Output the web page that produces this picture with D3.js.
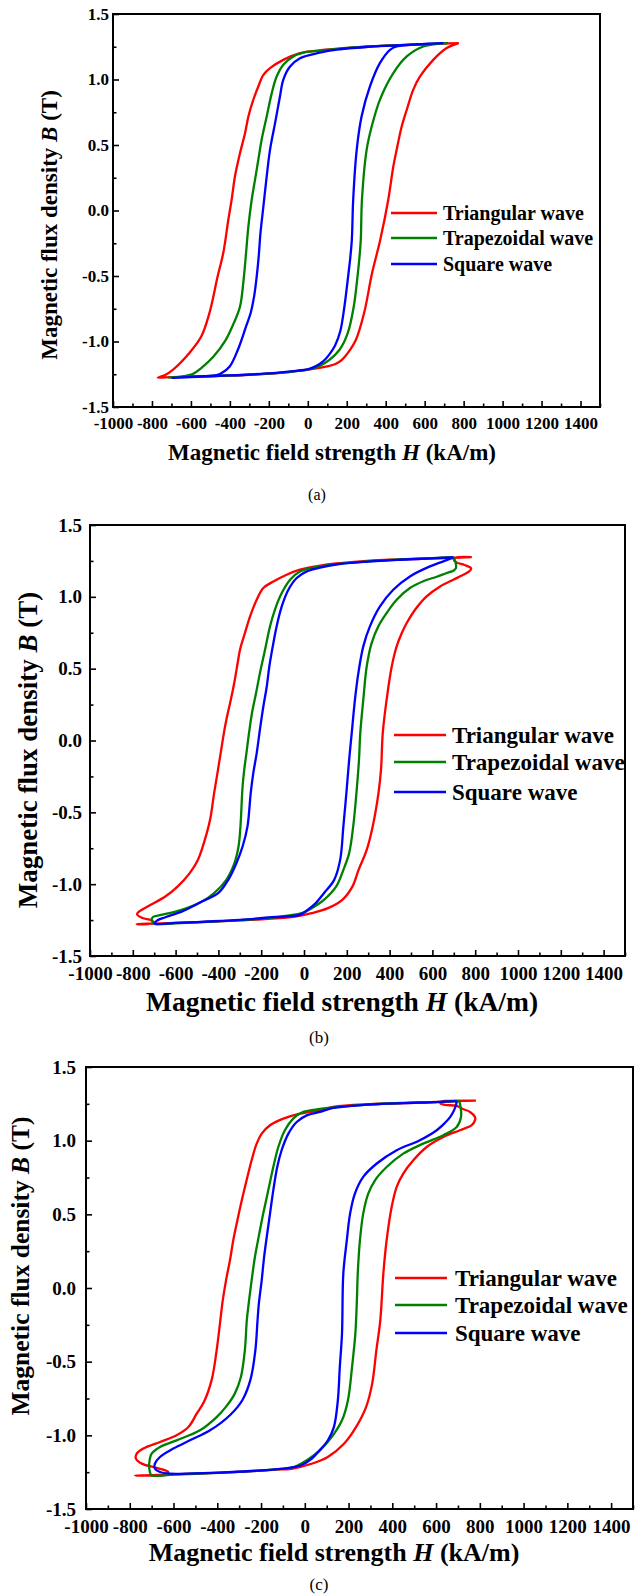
<!DOCTYPE html>
<html>
<head>
<meta charset="utf-8">
<script src="https://cdn.jsdelivr.net/npm/d3@7"></script>
<style>
  body { margin: 0; background: #fff; }
</style>
</head>
<body>
<div id="plot"></div>
<script>
// axis ticks and legend
const hTicks = [-1000, -800, -600, -400, -200, 0, 200, 400, 600, 800, 1000, 1200, 1400];
const hMinor = [-900, -700, -500, -300, -100, 100, 300, 500, 700, 900, 1100, 1300, 1500];
const bTicks = [-1.5, -1.0, -0.5, 0.0, 0.5, 1.0, 1.5];
const bMinor = [-1.25, -0.75, -0.25, 0.25, 0.75, 1.25];
const waveNames = ["Triangular wave", "Trapezoidal wave", "Square wave"];
const waveColors = ["#ff0000", "#008000", "#0000ff"];

// loops as [H (kA/m), B (T)]
// (a)
const aTriangular = [[775,1.278],[700,1.274],[550,1.266],[400,1.258],[300,1.25],[150,1.234],[62,1.222],[-40,1.201],[-126,1.15],[-194,1.087],[-228,1.036],[-254,0.947],[-280,0.845],[-305,0.718],[-322,0.591],[-348,0.438],[-374,0.26],[-391,0.082],[-408,-0.071],[-434,-0.325],[-463,-0.504],[-505,-0.783],[-547,-0.962],[-609,-1.089],[-693,-1.216],[-735,-1.258],[-770,-1.275],
  [-700,-1.272],[-550,-1.266],[-400,-1.26],[-300,-1.254],[-129,-1.238],[17,-1.211],[100,-1.19],[142,-1.172],[175,-1.14],[205,-1.089],[247,-0.987],[289,-0.783],[330,-0.478],[372,-0.224],[413,0.082],[439,0.336],[456,0.463],[482,0.641],[508,0.769],[541,0.921],[576,1.023],[644,1.15],[713,1.24],[775,1.278]];
const aTrapezoidal = [[720,1.278],[600,1.27],[450,1.261],[300,1.25],[150,1.234],[62,1.22],[-6,1.21],[-74,1.176],[-126,1.112],[-160,1.023],[-185,0.896],[-211,0.718],[-237,0.54],[-254,0.387],[-271,0.234],[-288,0.082],[-305,-0.122],[-317,-0.325],[-328,-0.504],[-348,-0.733],[-380,-0.86],[-421,-0.987],[-484,-1.115],[-547,-1.203],[-589,-1.247],[-650,-1.268],[-715,-1.276],
  [-650,-1.272],[-500,-1.264],[-350,-1.256],[-200,-1.245],[-60,-1.226],[10,-1.21],[59,-1.188],[111,-1.14],[163,-1.063],[205,-0.936],[236,-0.733],[257,-0.478],[264,-0.376],[272,-0.224],[278,0.082],[302,0.463],[328,0.641],[370,0.845],[439,1.049],[508,1.176],[593,1.252],[720,1.278]];
const aSquare = [[695,1.278],[600,1.272],[456,1.26],[300,1.248],[150,1.228],[62,1.205],[-40,1.163],[-91,1.099],[-126,0.998],[-143,0.87],[-168,0.667],[-194,0.463],[-211,0.26],[-228,0.031],[-243,-0.173],[-252,-0.35],[-262,-0.5],[-275,-0.65],[-293,-0.78],[-317,-0.885],[-359,-1.063],[-401,-1.191],[-442,-1.241],[-463,-1.254],[-600,-1.27],[-695,-1.278],
  [-600,-1.272],[-450,-1.262],[-300,-1.252],[-150,-1.237],[-50,-1.222],[0,-1.212],[40,-1.19],[80,-1.15],[110,-1.1],[140,-1.03],[167,-0.92],[188,-0.733],[209,-0.478],[217,-0.376],[226,-0.224],[233,0.082],[251,0.463],[276,0.718],[319,0.947],[370,1.125],[422,1.227],[456,1.252],[600,1.272],[695,1.278]];
// (b)
const bTriangular = [[784,1.277],[700,1.272],[550,1.265],[400,1.258],[250,1.245],[150,1.232],[75,1.217],[-19,1.189],[-81,1.154],[-143,1.107],[-190,1.061],[-221,0.98],[-252,0.864],[-276,0.748],[-299,0.632],[-310,0.539],[-326,0.4],[-342,0.283],[-356,0.191],[-369,0.097],[-387,-0.065],[-402,-0.204],[-420,-0.366],[-439,-0.552],[-468,-0.714],[-496,-0.831],[-534,-0.923],[-591,-1.017],[-648,-1.086],[-724,-1.15],[-770,-1.19],[-780,-1.21],[-755,-1.235],[-715,-1.25],[-702,-1.265],[-720,-1.277],[-782,-1.278],
  [-700,-1.274],[-550,-1.267],[-400,-1.259],[-250,-1.248],[-59,-1.23],[36,-1.202],[112,-1.167],[179,-1.109],[226,-1.017],[255,-0.9],[293,-0.761],[321,-0.598],[348,-0.366],[360,-0.2],[368,0.051],[386,0.283],[410,0.515],[433,0.655],[457,0.748],[480,0.818],[519,0.91],[573,1.003],[636,1.072],[698,1.119],[740,1.15],[772,1.177],[781,1.198],[750,1.222],[712,1.24],[700,1.262],[720,1.276],[784,1.277]];
const bTrapezoidal = [[700,1.277],[600,1.27],[450,1.26],[300,1.247],[150,1.228],[75,1.212],[-19,1.177],[-65,1.119],[-104,1.026],[-136,0.91],[-159,0.794],[-182,0.632],[-206,0.469],[-224,0.33],[-243,0.191],[-257,0.051],[-269,-0.088],[-279,-0.2],[-287,-0.32],[-297,-0.599],[-306,-0.738],[-325,-0.854],[-363,-0.97],[-420,-1.063],[-477,-1.121],[-572,-1.179],[-667,-1.214],[-705,-1.228],[-712,-1.249],[-705,-1.268],[-700,-1.277],
  [-600,-1.272],[-450,-1.263],[-300,-1.251],[-150,-1.233],[-11,-1.202],[36,-1.167],[93,-1.109],[150,-1.017],[184,-0.9],[211,-0.784],[230,-0.598],[245,-0.366],[257,-0.134],[263,0.051],[277,0.283],[293,0.515],[316,0.678],[347,0.794],[386,0.887],[433,0.98],[495,1.061],[560,1.11],[620,1.14],[667,1.166],[698,1.182],[710,1.2],[709,1.235],[703,1.263],[700,1.277]];
const bSquare = [[698,1.274],[600,1.268],[450,1.258],[300,1.245],[150,1.225],[75,1.203],[13,1.177],[-34,1.131],[-73,1.049],[-104,0.933],[-128,0.794],[-146,0.655],[-162,0.515],[-174,0.376],[-190,0.237],[-206,0.075],[-221,-0.088],[-237,-0.227],[-249,-0.366],[-264,-0.598],[-287,-0.738],[-316,-0.854],[-354,-0.97],[-401,-1.063],[-477,-1.121],[-572,-1.191],[-648,-1.23],[-686,-1.253],[-698,-1.274],
  [-600,-1.27],[-450,-1.26],[-300,-1.248],[-150,-1.23],[-21,-1.214],[17,-1.179],[55,-1.132],[93,-1.063],[141,-0.97],[169,-0.831],[184,-0.598],[198,-0.366],[211,-0.134],[223,0.051],[238,0.283],[254,0.469],[277,0.655],[308,0.794],[355,0.933],[417,1.049],[495,1.142],[589,1.212],[651,1.247],[698,1.274]];
// (c)
const cTriangular = [[782,1.272],[700,1.268],[550,1.26],[400,1.252],[283,1.247],[130,1.229],[69,1.206],[-22,1.184],[-98,1.15],[-159,1.105],[-197,1.048],[-220,0.98],[-243,0.867],[-266,0.731],[-288,0.595],[-308,0.46],[-327,0.324],[-342,0.188],[-360,0.052],[-375,-0.084],[-386,-0.219],[-403,-0.423],[-425,-0.62],[-460,-0.77],[-494,-0.853],[-532,-0.944],[-586,-1.0],[-662,-1.045],[-738,-1.09],[-768,-1.124],[-772,-1.158],[-745,-1.192],[-692,-1.215],[-647,-1.233],[-624,-1.249],[-635,-1.265],[-660,-1.272],[-776,-1.273],
  [-700,-1.27],[-550,-1.262],[-400,-1.255],[-283,-1.247],[-130,-1.233],[-61,-1.227],[31,-1.193],[105,-1.147],[179,-1.057],[234,-0.944],[280,-0.808],[308,-0.649],[327,-0.423],[345,-0.219],[359,0.098],[374,0.324],[397,0.55],[420,0.686],[450,0.777],[496,0.867],[557,0.957],[633,1.025],[709,1.071],[763,1.105],[778,1.139],[778,1.161],[755,1.195],[717,1.218],[694,1.236],[640,1.243],[620,1.252],[625,1.265],[650,1.27],[782,1.272]];
const cTrapezoidal = [[706,1.27],[600,1.262],[450,1.256],[283,1.245],[130,1.226],[69,1.215],[-7,1.195],[-53,1.15],[-91,1.071],[-121,0.957],[-144,0.821],[-167,0.663],[-190,0.505],[-208,0.369],[-228,0.21],[-243,0.052],[-256,-0.1],[-265,-0.219],[-274,-0.423],[-292,-0.604],[-320,-0.717],[-357,-0.8],[-403,-0.876],[-479,-0.966],[-586,-1.034],[-662,-1.079],[-700,-1.124],[-711,-1.192],[-708,-1.249],[-700,-1.272],
  [-600,-1.266],[-450,-1.258],[-300,-1.248],[-150,-1.233],[-50,-1.215],[13,-1.165],[68,-1.102],[123,-1.011],[170,-0.898],[197,-0.763],[216,-0.536],[231,-0.31],[238,-0.084],[242,0.098],[252,0.324],[267,0.505],[290,0.641],[321,0.731],[374,0.821],[450,0.912],[541,0.98],[633,1.037],[694,1.093],[714,1.161],[712,1.229],[706,1.27]];
const cSquare = [[694,1.27],[600,1.262],[450,1.255],[283,1.244],[130,1.222],[69,1.195],[9,1.172],[-37,1.127],[-75,1.048],[-106,0.935],[-126,0.821],[-144,0.663],[-159,0.505],[-174,0.346],[-186,0.21],[-197,0.052],[-210,-0.106],[-216,-0.219],[-226,-0.423],[-248,-0.62],[-285,-0.76],[-340,-0.86],[-433,-0.966],[-525,-1.034],[-601,-1.09],[-662,-1.147],[-685,-1.192],[-685,-1.226],[-662,-1.249],[-616,-1.26],
  [-500,-1.258],[-350,-1.25],[-200,-1.238],[-80,-1.222],[-20,-1.205],[31,-1.159],[68,-1.102],[105,-1.035],[133,-0.944],[151,-0.763],[160,-0.536],[170,-0.31],[176,0.098],[192,0.324],[207,0.505],[229,0.641],[267,0.754],[329,0.845],[420,0.935],[526,1.003],[603,1.071],[640,1.12],[664,1.16],[680,1.2],[691,1.24],[694,1.27]];

// page layout of the three panels
const panels = [
  {loops: [aTriangular, aTrapezoidal, aSquare], left: 113, right: 600, top: 14, bottom: 407,
   tickFont: 17, xPad: 10, yPad: 4, xTitle: {size: 23, x: 332, y: 460}, yTitle: {size: 23, x: 57, y: 225},
   legend: {x1: 391, x2: 437, tx: 443, rows: [213, 238, 264], size: 20}, caption: {text: "(a)", x: 317, y: 500, size: 16}},
  {loops: [bTriangular, bTrapezoidal, bSquare], left: 90, right: 625, top: 525, bottom: 956,
   tickFont: 19, xPad: 11, yPad: 8, xTitle: {size: 27.5, x: 342, y: 1011}, yTitle: {size: 27, x: 37, y: 750},
   legend: {x1: 394, x2: 446, tx: 452, rows: [735, 762, 792], size: 23}, caption: {text: "(b)", x: 319, y: 1043, size: 17}},
  {loops: [cTriangular, cTrapezoidal, cSquare], left: 86, right: 633, top: 1067, bottom: 1509,
   tickFont: 19, xPad: 11, yPad: 10, xTitle: {size: 26, x: 334, y: 1561}, yTitle: {size: 25.5, x: 29, y: 1266},
   legend: {x1: 395, x2: 447, tx: 455, rows: [1278, 1305, 1333], size: 23}, caption: {text: "(c)", x: 319, y: 1590, size: 17}}
];

const svg = d3.select("#plot")
  .append("svg")
  .attr("width", 635)
  .attr("height", 1596);

// find an installed Times-like face (width test against monospace)
function pickSerif(cands) {
  const probe = svg.append("text").attr("x", -9999).attr("font-size", 40).text("Magnetic field strength 1200");
  const w = f => { probe.attr("font-family", f); return probe.node().getComputedTextLength(); };
  const mono = w("monospace");
  let found = "serif";
  for (const c of cands) {
    if (Math.abs(w("'" + c + "', monospace") - mono) > 0.5) { found = "'" + c + "', serif"; break; }
  }
  probe.remove();
  return found;
}
const serif = pickSerif(["Liberation Serif", "Times New Roman", "Tinos", "Nimbus Roman", "DejaVu Serif", "Noto Serif"]);
svg.attr("font-family", serif);

panels.forEach(p => {
  const x = d3.scaleLinear().domain([-1000, 1500]).range([p.left, p.right]);
  const y = d3.scaleLinear().domain([-1.5, 1.5]).range([p.bottom, p.top]);
  const g = svg.append("g");

  // loops, blue drawn last
  const line = d3.line()
    .x(d => x(d[0]))
    .y(d => y(d[1]))
    .curve(d3.curveCatmullRom.alpha(0.5));
  p.loops.forEach((loop, i) => {
    g.append("path")
      .datum(loop)
      .attr("fill", "none")
      .attr("stroke", waveColors[i])
      .attr("stroke-width", 2.3)
      .attr("stroke-linejoin", "round")
      .attr("d", line);
  });

  // x axis, ticks inward
  g.append("g")
    .attr("transform", "translate(0," + p.bottom + ")")
    .call(d3.axisBottom(x).tickValues(hTicks).tickSize(-6).tickPadding(p.xPad)
      .tickFormat(d => String(d)))
    .call(a => a.select(".domain").remove());
  g.append("g")
    .attr("transform", "translate(0," + p.bottom + ")")
    .call(d3.axisBottom(x).tickValues(hMinor).tickSize(-3.5).tickFormat(""))
    .call(a => a.select(".domain").remove());

  // y axis
  g.append("g")
    .attr("transform", "translate(" + p.left + ",0)")
    .call(d3.axisLeft(y).tickValues(bTicks).tickSize(-6).tickPadding(p.yPad)
      .tickFormat(d => d.toFixed(1)))
    .call(a => a.select(".domain").remove());
  g.append("g")
    .attr("transform", "translate(" + p.left + ",0)")
    .call(d3.axisLeft(y).tickValues(bMinor).tickSize(-3.5).tickFormat(""))
    .call(a => a.select(".domain").remove());

  g.selectAll(".tick line").attr("stroke", "#000").attr("stroke-width", 1.6);
  g.selectAll(".tick text")
    .attr("font-family", serif)
    .attr("font-size", p.tickFont)
    .attr("font-weight", "bold")
    .attr("fill", "#000");

  // frame
  g.append("rect")
    .attr("x", p.left).attr("y", p.top)
    .attr("width", p.right - p.left).attr("height", p.bottom - p.top)
    .attr("fill", "none").attr("stroke", "#000").attr("stroke-width", 2);

  // axis titles
  const xt = g.append("text")
    .attr("x", p.xTitle.x).attr("y", p.xTitle.y)
    .attr("text-anchor", "middle")
    .attr("font-size", p.xTitle.size).attr("font-weight", "bold");
  xt.append("tspan").text("Magnetic field strength ");
  xt.append("tspan").attr("font-style", "italic").text("H");
  xt.append("tspan").text(" (kA/m)");

  const yt = g.append("text")
    .attr("transform", "translate(" + p.yTitle.x + "," + p.yTitle.y + ") rotate(-90)")
    .attr("text-anchor", "middle")
    .attr("font-size", p.yTitle.size).attr("font-weight", "bold");
  yt.append("tspan").text("Magnetic flux density ");
  yt.append("tspan").attr("font-style", "italic").text("B");
  yt.append("tspan").text(" (T)");

  // legend
  waveNames.forEach((name, i) => {
    const ry = p.legend.rows[i];
    g.append("line")
      .attr("x1", p.legend.x1).attr("x2", p.legend.x2)
      .attr("y1", ry).attr("y2", ry)
      .attr("stroke", waveColors[i]).attr("stroke-width", 2.4);
    g.append("text")
      .attr("x", p.legend.tx).attr("y", ry)
      .attr("dy", "0.35em")
      .attr("font-size", p.legend.size).attr("font-weight", "bold")
      .text(name);
  });

  // caption
  g.append("text")
    .attr("x", p.caption.x).attr("y", p.caption.y)
    .attr("text-anchor", "middle")
    .attr("font-size", p.caption.size)
    .text(p.caption.text);
});
</script>
</body>
</html>
